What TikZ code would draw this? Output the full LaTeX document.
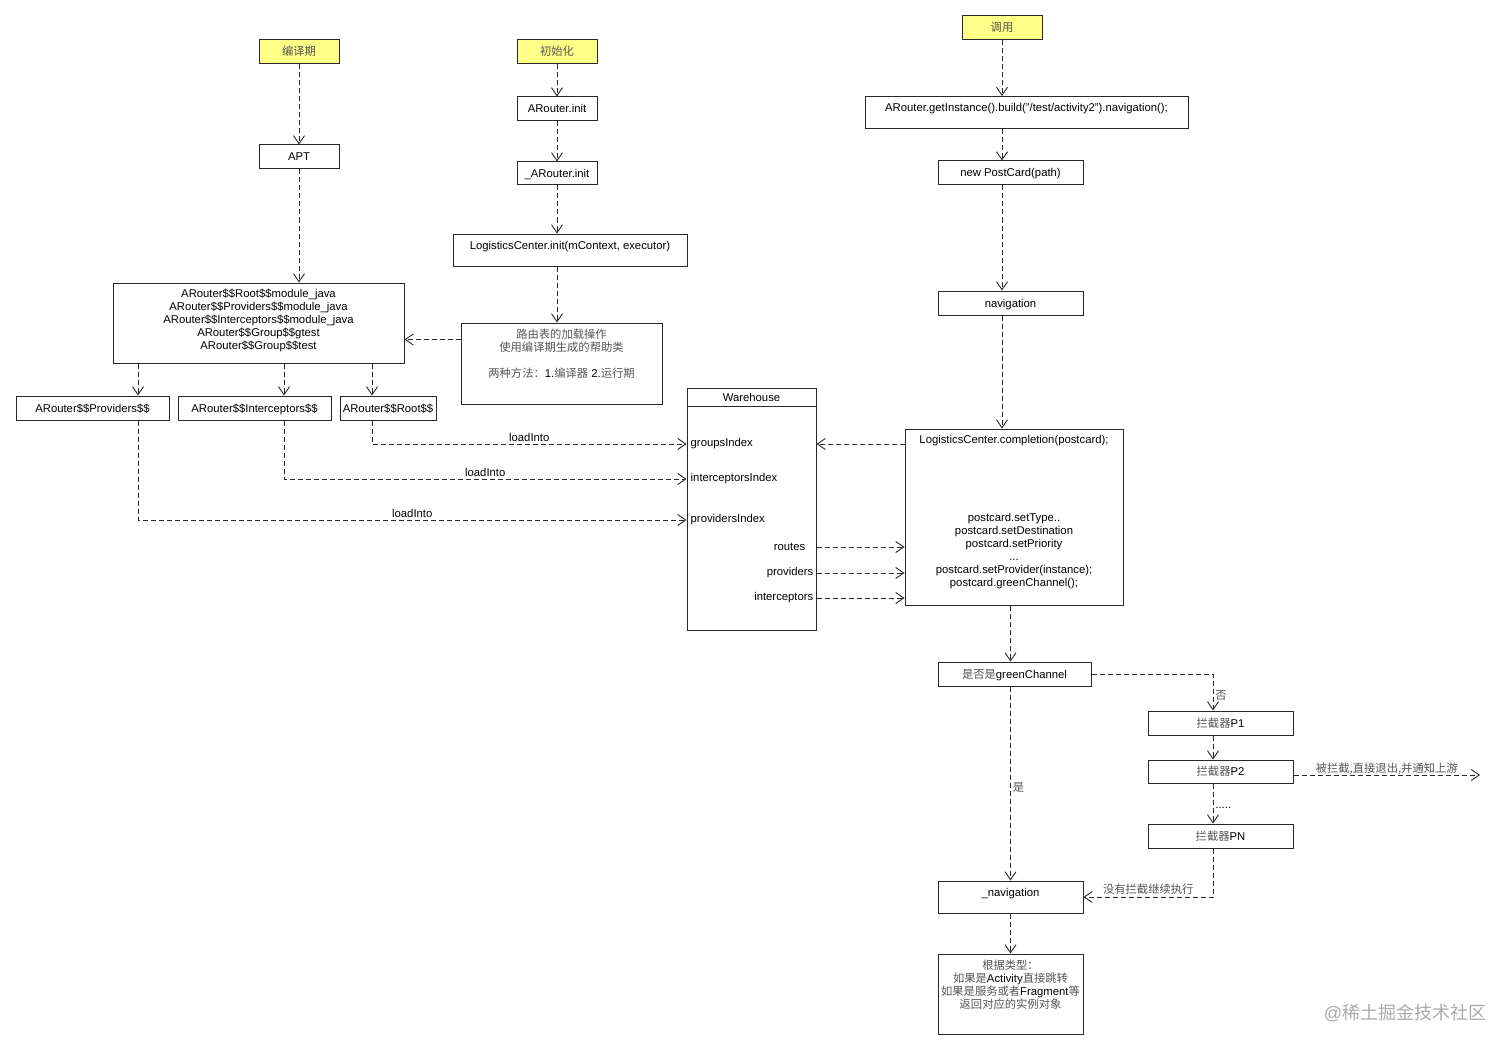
\documentclass[tikz,border=0pt]{standalone}
\usepackage{fontspec}
\setmainfont{Liberation Sans}
\newfontfamily\zhfont{Noto Sans CJK SC}
\usetikzlibrary{arrows.meta}
\definecolor{boxline}{RGB}{40,40,40}
\definecolor{phasefill}{RGB}{255,255,136}
\definecolor{zhgray}{RGB}{85,85,85}
\definecolor{markgray}{RGB}{170,170,170}
\newcommand{\zh}[1]{{\zhfont\color{zhgray}#1}}
\tikzset{
  box/.style={draw=boxline, line width=1pt, inner sep=2pt},
  cell/.style={box, minimum height=24pt, text height=9pt, text depth=1pt},
  tall/.style={cell, minimum height=32pt, text depth=11pt},
  phase/.style={cell, fill=phasefill, minimum width=80pt},
  flow/.style={draw=boxline, line width=0.9pt, dash pattern=on 5pt off 3pt, -{Straight Barb[length=8pt,width=11pt]}},
  tag/.style={inner sep=2pt}
}
\begin{document}
\begin{tikzpicture}[x=1pt, y=-1pt, font=\fontsize{11.3pt}{13pt}\selectfont]
  \useasboundingbox[fill=white] (0,0) rectangle (1512,1051);

  \node[phase] (compile) at (299,52) {\zh{编译期}};
  \node[cell, minimum width=80pt] (apt) at (299,157) {APT};
  \node[box, minimum width=291pt, minimum height=80pt] (gen) at (258.5,323) {};
  \node[anchor=north, align=center, inner sep=6pt] (gentxt) at (gen.north)
    {ARouter\$\$Root\$\$module\_java\\ARouter\$\$Providers\$\$module\_java\\ARouter\$\$Interceptors\$\$module\_java\\ARouter\$\$Group\$\$gtest\\ARouter\$\$Group\$\$test};
  \node[cell, minimum width=153pt] (prov) at (92.5,408) {ARouter\$\$Providers\$\$};
  \node[cell, minimum width=153pt] (intc) at (254.5,408) {ARouter\$\$Interceptors\$\$};
  \node[cell, minimum width=96pt] (rootc) at (388,408) {ARouter\$\$Root\$\$};

  \node[phase] (init) at (557,52) {\zh{初始化}};
  \node[cell, minimum width=80pt] (ainit) at (557,109) {ARouter.init};
  \node[cell, minimum width=80pt, minimum height=23pt] (iainit) at (557,173.5) {\_ARouter.init};
  \node[tall, minimum width=234pt] (lcinit) at (570,250) {LogisticsCenter.init(mContext, executor)};
  \node[box, minimum width=201pt, minimum height=81pt] (loader) at (561.5,363.5) {};
  \node[anchor=north, align=center, inner sep=6pt] (loadertxt) at (loader.north)
    {\zh{路由表的加载操作}\\\zh{使用编译期生成的帮助类}\\[13pt]\zh{两种方法：}1.\zh{编译器} 2.\zh{运行期}};

  \node[phase] (call) at (1002,28) {\zh{调用}};
  \node[tall, minimum width=323pt] (invoke) at (1026.5,112.5) {ARouter.getInstance().build("/test/activity2").navigation();};
  \node[cell, minimum width=145pt] (postcard) at (1010.5,173) {new PostCard(path)};
  \node[cell, minimum width=145pt] (nav) at (1010.5,303) {navigation};
  \node[box, minimum width=218pt, minimum height=176pt] (comp) at (1014,517) {};
  \node[anchor=north, inner sep=6pt, text height=9pt, text depth=1pt] (comphead) at (comp.north) {LogisticsCenter.completion(postcard);};
  \node[align=center] (comptxt) at (1014,551.5)
    {postcard.setType..\\postcard.setDestination\\postcard.setPriority\\...\\postcard.setProvider(instance);\\postcard.greenChannel();};

  \node[box, minimum width=129pt, minimum height=242pt] (wh) at (751.5,509) {};
  \node[anchor=north, minimum height=19pt, inner sep=0pt] (whtitle) at (wh.north) {Warehouse};
  \draw[boxline, line width=1pt] (wh.west |- whtitle.south) -- (wh.east |- whtitle.south);
  \foreach \n/\t/\y in {gidx/groupsIndex/444, iidx/interceptorsIndex/479, pidx/providersIndex/520}
    \node[anchor=west, inner sep=4pt] (\n) at (wh.west |- 0,\y) {\t};
  \foreach \n/\t/\y/\d in {rts/routes/547/8, prv/providers/573/0, itc/interceptors/598/0}
    \node[anchor=east, inner sep=3pt, xshift=-\d pt] (\n) at (wh.east |- 0,\y) {\t};

  \node[cell, minimum width=153pt] (green) at (1014.5,674) {\zh{是否是}greenChannel};
  \coordinate (lane) at (1213,0);
  \node[cell, minimum width=145pt] (p1) at (1220.5,723) {\zh{拦截器}P1};
  \node[cell, minimum width=145pt, minimum height=23pt] (p2) at (1220.5,771.5) {\zh{拦截器}P2};
  \node[cell, minimum width=145pt] (pn) at (1220.5,836) {\zh{拦截器}PN};
  \coordinate (exit) at (1480,775);
  \node[tall, minimum width=145pt] (inav) at (1010.5,897) {\_navigation};
  \node[box, minimum width=145pt, minimum height=80pt] (result) at (1010.5,994) {};
  \node[anchor=north, align=center, inner sep=6pt] (resulttxt) at (result.north)
    {\zh{根据类型：}\\\zh{如果是}Activity\zh{直接跳转}\\\zh{如果是服务或者}Fragment\zh{等}\\\zh{返回对应的实例对象}};
  \node[text=markgray, font=\fontsize{18pt}{20pt}\selectfont] (mark) at (1405,1013) {@{\zhfont 稀土掘金技术社区}};

  \draw[flow] (compile.south) -- (apt.north);
  \draw[flow] (apt.south) -- (apt.south |- gen.north);
  \foreach \n/\x in {prov/138, intc/284, rootc/372}
    \draw[flow] (gen.south -| \x,0) -- (\n.north -| \x,0);
  \foreach \n/\x/\f in {rootc/372/gidx, intc/284/iidx, prov/138/pidx}
    \draw[flow] (\n.south -| \x,0) |- node[pos=0.75, above, tag] {loadInto} (\f.west);

  \draw[flow] (init) -- (ainit);
  \draw[flow] (ainit) -- (iainit);
  \draw[flow] (iainit.south) -- (iainit.south |- lcinit.north);
  \draw[flow] (lcinit.south -| iainit) -- (loader.north -| iainit);
  \coordinate (back) at ([yshift=-17pt]loader.north west);
  \draw[flow] (back) -- (back -| gen.east);

  \draw[flow] (call.south) -- (call.south |- invoke.north);
  \draw[flow] (invoke.south -| call) -- (postcard.north -| call);
  \draw[flow] (postcard.south -| call) -- (nav.north -| call);
  \draw[flow] (nav.south -| call) -- (comp.north -| call);
  \draw[flow] (comp.west |- gidx) -- (wh.east |- gidx);
  \foreach \n in {rts, prv, itc}
    \draw[flow] (wh.east |- \n) -- (comp.west |- \n);

  \draw[flow] (comp.south -| inav) -- (green.north -| inav);
  \draw[flow] (green.east) -| node[pos=0.79, right, tag] {\zh{否}} (lane |- p1.north);
  \draw[flow] (lane |- p1.south) -- (lane |- p2.north);
  \draw[flow] (lane |- p2.south) -- node[pos=0.6, right, tag] {.....} (lane |- pn.north);
  \draw[flow] (p2.east |- exit) -- node[above, inner sep=0pt] {\zh{被拦截,直接退出,并通知上游}} (exit);
  \draw[flow] (lane |- pn.south) |- node[pos=0.75, above, tag] {\zh{没有拦截继续执行}} (inav.east);
  \draw[flow] (green.south -| inav) -- node[pos=0.52, right, tag] {\zh{是}} (inav.north);
  \draw[flow] (inav.south) -- (result.north);
\end{tikzpicture}
\end{document}
